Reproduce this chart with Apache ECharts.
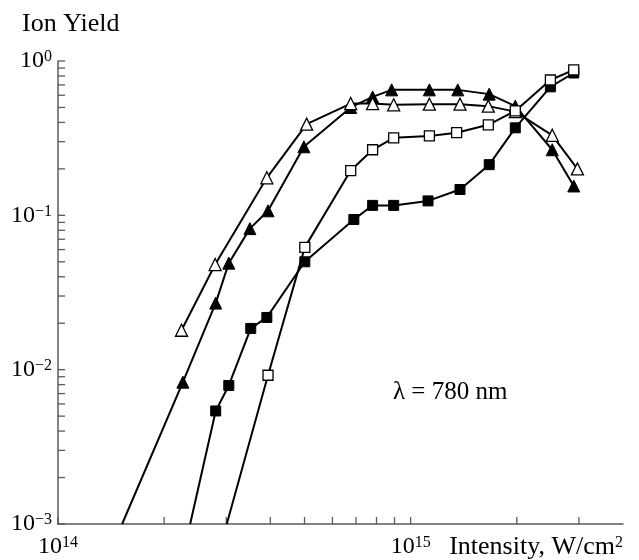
<!DOCTYPE html>
<html>
<head>
<meta charset="utf-8">
<script src="https://cdn.jsdelivr.net/npm/echarts@6/dist/echarts.min.js"></script>
<style>
  html, body { margin: 0; padding: 0; background: #fff; }
</style>
</head>
<body>
<div id="chart" style="width: 639px; height: 560px;"></div>
<script>
// intensity in W/cm^2, ion yield (arb.)
const openTriX = [2.24e14, 2.79e14, 3.91e14, 5.07e14, 6.76e14, 7.8e14, 8.95e14, 1.13e15, 1.38e15, 1.66e15, 1.98e15, 2.52e15, 2.97e15]
const openTriY = [0.018, 0.048, 0.175, 0.39, 0.53, 0.53, 0.52, 0.525, 0.525, 0.51, 0.47, 0.33, 0.20]

const filledTriX = [2.26e14, 2.80e14, 3.05e14, 3.50e14, 3.94e14, 4.98e14, 6.76e14, 7.8e14, 8.83e14, 1.13e15, 1.36e15, 1.67e15, 1.98e15, 2.52e15, 2.90e15]
const filledTriY = [0.0083, 0.027, 0.049, 0.082, 0.107, 0.278, 0.50, 0.585, 0.65, 0.65, 0.65, 0.61, 0.51, 0.266, 0.155]
const filledTriStart = [1.52e14, 1e-3]

const filledSqX = [2.80e14, 3.05e14, 3.52e14, 3.91e14, 5.01e14, 6.9e14, 7.8e14, 8.95e14, 1.12e15, 1.38e15, 1.67e15, 1.98e15, 2.49e15, 2.90e15]
const filledSqY = [0.0054, 0.0079, 0.0185, 0.0218, 0.050, 0.094, 0.116, 0.116, 0.124, 0.147, 0.213, 0.369, 0.68, 0.836]
const filledSqStart = [2.37e14, 1e-3]

const openSqX = [3.94e14, 5.01e14, 6.76e14, 7.8e14, 8.95e14, 1.13e15, 1.35e15, 1.66e15, 1.98e15, 2.49e15, 2.90e15]
const openSqY = [0.0092, 0.062, 0.195, 0.266, 0.318, 0.327, 0.343, 0.386, 0.475, 0.753, 0.875]
const openSqStart = [3.01e14, 1e-3]

// axis ticks
const xTicks = [1e14, 2e14, 3e14, 4e14, 5e14, 6e14, 7e14, 8e14, 9e14, 1e15, 2e15, 3e15]
const yTicks = [
  0.001, 0.002, 0.003, 0.004, 0.005, 0.006, 0.007, 0.008, 0.009,
  0.01, 0.02, 0.03, 0.04, 0.05, 0.06, 0.07, 0.08, 0.09,
  0.1, 0.2, 0.3, 0.4, 0.5, 0.6, 0.7, 0.8, 0.9, 1
]

const X_MIN = 1e14, X_MAX = 4e15, Y_MIN = 1e-3, Y_MAX = 1
const FONT = 'Liberation Serif'
const AXIS_COLOR = '#5a5a5a'
const TICK_LEN = 7

function pts(xs, ys, start) {
  const out = xs.map((x, i) => [x, ys[i]])
  if (start) out.unshift({ value: start, symbol: 'none' })
  return out
}

function powLabel(v) {
  const e = Math.log10(v)
  const r = Math.round(e)
  if (Math.abs(e - r) > 1e-6) return ''
  return '{b|10}{s|' + String(r).replace('-', '\u2212') + '}'
}

const richText = {
  b: { fontFamily: FONT, fontSize: 24, lineHeight: 24, color: '#000' },
  s: { fontFamily: FONT, fontSize: 16, lineHeight: 16, color: '#000', verticalAlign: 'top' },
}
const nameRich = {
  b: { fontFamily: FONT, fontSize: 26, lineHeight: 24, color: '#000' },
  s: { fontFamily: FONT, fontSize: 16, lineHeight: 16, color: '#000', verticalAlign: 'top' },
}

function lineSeries(name, data, symbol, size, filled) {
  return {
    name, type: 'line', data, symbol, symbolSize: size,
    showSymbol: true, clip: false,
    lineStyle: { color: '#000', width: 2 },
    itemStyle: filled
      ? { color: '#000', borderColor: '#000', borderWidth: 1 }
      : { color: '#fff', borderColor: '#000', borderWidth: 1.3 },
    z: 3,
  }
}

const chart = echarts.init(document.getElementById('chart'))

chart.setOption({
  animation: false,
  title: {
    text: 'Ion Yield', left: 17, top: 6,
    textStyle: { fontFamily: FONT, fontSize: 26, fontWeight: 'normal', color: '#000' },
  },
  grid: { left: 58, right: 16, top: 61, bottom: 35 },
  xAxis: {
    type: 'log', logBase: 10, min: X_MIN, max: X_MAX, interval: 1,
    axisLine: { lineStyle: { color: AXIS_COLOR, width: 1.5 } },
    axisTick: { show: false },
    splitLine: { show: false },
    axisLabel: { formatter: powLabel, rich: richText, margin: 11, showMaxLabel: false, showMinLabel: true },
    name: '{b|Intensity, W/cm}{s|2}',
    nameLocation: 'end', nameGap: 0,
    nameTextStyle: { align: 'right', verticalAlign: 'top', padding: [11, 0, 0, 0], rich: nameRich },
  },
  yAxis: {
    type: 'log', logBase: 10, min: Y_MIN, max: Y_MAX, interval: 1,
    axisLine: { lineStyle: { color: AXIS_COLOR, width: 1.5 } },
    axisTick: { show: false },
    splitLine: { show: false },
    axisLabel: { formatter: powLabel, rich: richText, margin: 6 },
  },
  graphic: [{
    type: 'text', left: 393, top: 380,
    style: { text: '\u03bb = 780 nm', font: '25px "Liberation Serif"', fill: '#000' },
  }],
  series: [
    {
      type: 'custom', name: 'xticks', silent: true, clip: false, z: 1,
      data: xTicks.map(v => [v, Y_MIN]),
      renderItem: (params, api) => {
        const p = api.coord([api.value(0), Y_MIN])
        return { type: 'line', shape: { x1: p[0], y1: p[1], x2: p[0], y2: p[1] - TICK_LEN }, style: { stroke: AXIS_COLOR, lineWidth: 1.3 } }
      },
    },
    {
      type: 'custom', name: 'yticks', silent: true, clip: false, z: 1,
      data: yTicks.map(v => [X_MIN, v]),
      renderItem: (params, api) => {
        const p = api.coord([X_MIN, api.value(1)])
        return { type: 'line', shape: { x1: p[0], y1: p[1], x2: p[0] + TICK_LEN, y2: p[1] }, style: { stroke: AXIS_COLOR, lineWidth: 1.3 } }
      },
    },
    lineSeries('filledTri', pts(filledTriX, filledTriY, filledTriStart), 'triangle', 12, true),
    lineSeries('openTri', pts(openTriX, openTriY), 'triangle', 12, false),
    lineSeries('filledSq', pts(filledSqX, filledSqY, filledSqStart), 'rect', 10, true),
    lineSeries('openSq', pts(openSqX, openSqY, openSqStart), 'rect', 10, false),
  ],
})

window.addEventListener('resize', () => chart.resize())
</script>
</body>
</html>
